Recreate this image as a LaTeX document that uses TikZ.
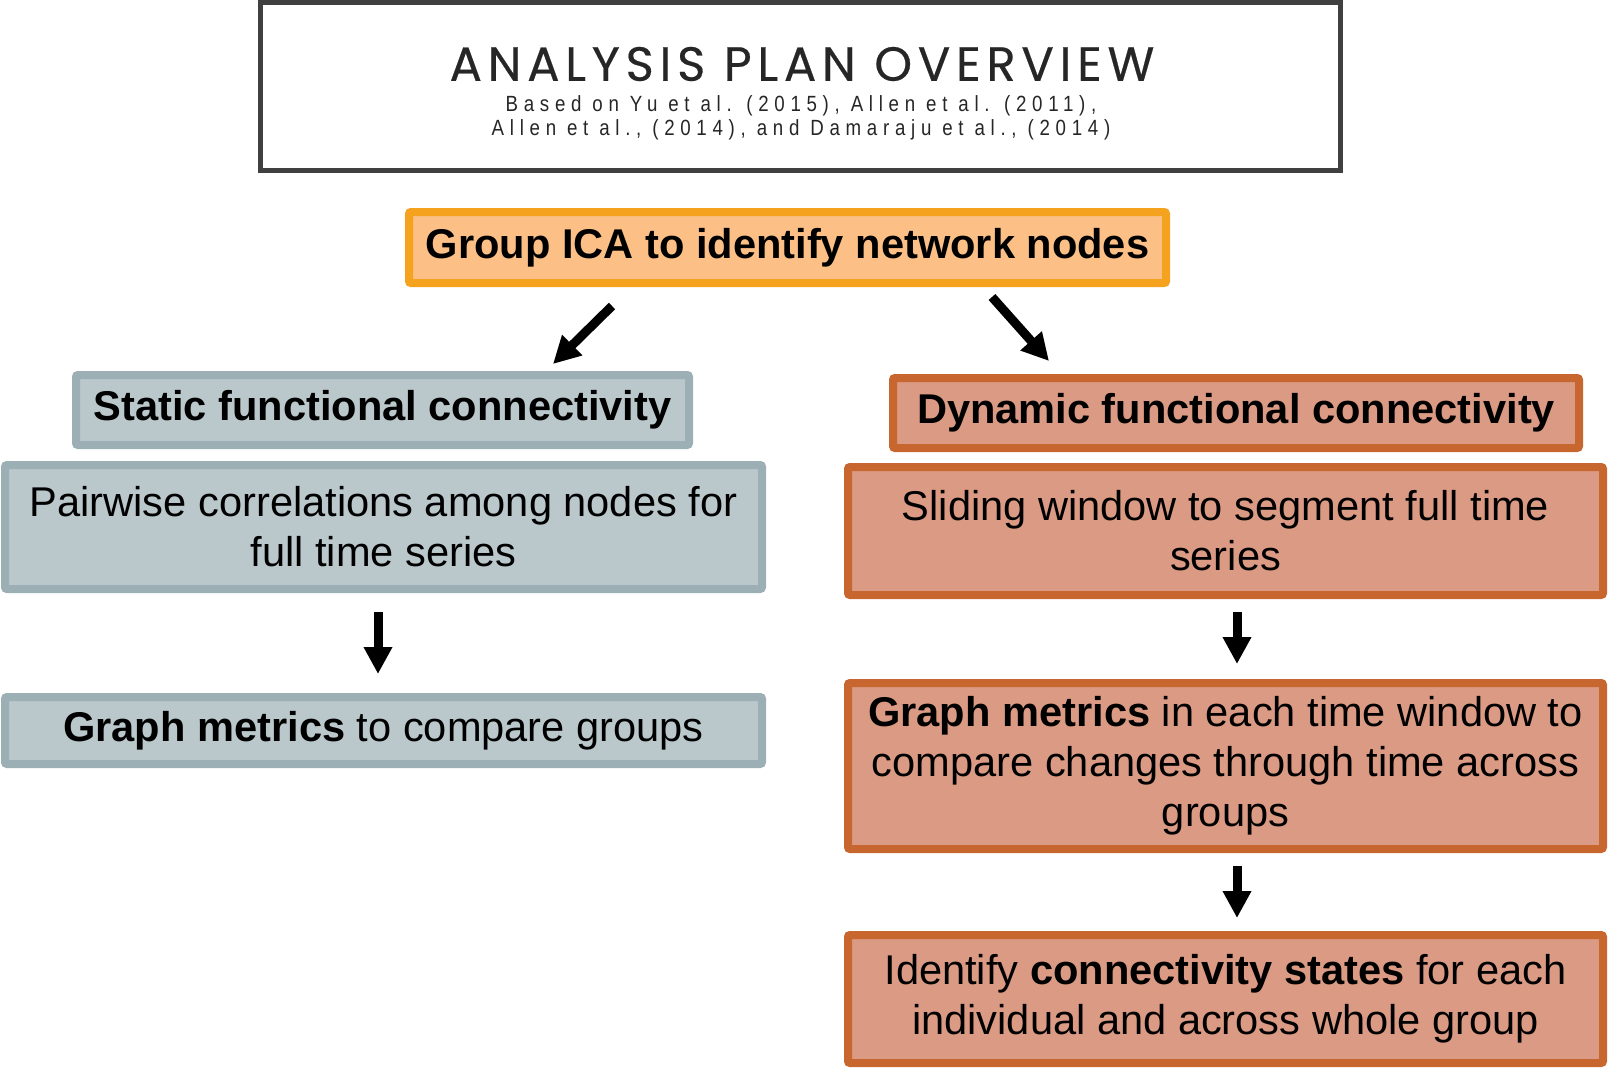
\documentclass[tikz,border=0pt]{standalone}
\usepackage{fontspec}
\setmainfont{Liberation Sans}
\newfontfamily\titlefont[LetterSpace=12,FakeBold=0.4]{Poppins}
\newfontfamily\subfont[LetterSpace=26,FakeStretch=0.85]{Liberation Sans}
\usepackage{tikz}
\usetikzlibrary{positioning, shapes, arrows.meta}

\definecolor{titleline}{HTML}{404040}
\definecolor{icaline}{HTML}{F5A21E}
\definecolor{icafill}{HTML}{FCC087}
\definecolor{statline}{HTML}{9BAFB5}
\definecolor{statfill}{HTML}{BAC8CC}
\definecolor{dynline}{HTML}{C86630}
\definecolor{dynfill}{HTML}{DB9A84}

\tikzset{
  box/.style={draw, line width=8pt, rounded corners=2pt, align=center,
    inner sep=0pt, font=\fontsize{41.6}{50}\selectfont},
  icabox/.style={box, draw=icaline, fill=icafill},
  statbox/.style={box, draw=statline, fill=statfill},
  dynbox/.style={box, draw=dynline, fill=dynfill},
  bigarrow/.style={line width=9pt, -{Triangle[width=27pt,length=27pt]}},
}

\begin{document}
\begin{tikzpicture}[x=1pt, y=-1pt]
  \useasboundingbox (0,0) rectangle (1620,1070);

  % heading
  \node [draw=titleline, line width=5pt, minimum width=1080pt, minimum height=168pt] (titlebox) at (800.5,86.5) {};
  \node [font=\titlefont\fontsize{48}{50}\selectfont, text=black!85, inner sep=0pt] (titletext) at (802,64) {ANALYSIS PLAN OVERVIEW};
  \node [font=\subfont\fontsize{22}{23.5}\selectfont, align=center, text=black!85, inner sep=0pt] (titlesub) at (801,118)
    {Based on Yu et al. (2015), Allen et al. (2011),\\ Allen et al., (2014), and Damaraju et al., (2014)};

  % top step
  \node [icabox, minimum width=757pt, minimum height=71pt] (ica) at (787.5,247.5) {\textbf{Group ICA to identify network nodes}};

  % static branch
  \node [statbox, minimum width=613pt, minimum height=70pt] (static) at (382.5,410) {\textbf{Static functional connectivity}};
  \node [statbox, minimum width=757pt, minimum height=124pt] (pair) at (383.5,527) {Pairwise correlations among nodes for\\ full time series};
  \node [statbox, minimum width=757pt, minimum height=67pt] (gml) at (383.5,730.5) {\textbf{Graph metrics} to compare groups};

  % dynamic branch
  \node [dynbox, minimum width=686pt, minimum height=70pt] (dyn) at (1236,413) {\textbf{Dynamic functional connectivity}};
  \node [dynbox, minimum width=755pt, minimum height=128pt] (slide) at (1225.5,531) {Sliding window to segment full time\\ series};
  \node [dynbox, minimum width=755pt, minimum height=166pt] (gmr) at (1225.5,766) {\textbf{Graph metrics} in each time window to\\ compare changes through time across\\ groups};
  \node [dynbox, minimum width=755pt, minimum height=128pt] (ident) at (1225.5,999) {Identify \textbf{connectivity states} for each\\ individual and across whole group};

  % arrows
  \draw [bigarrow] ([xshift=-175.5pt, yshift=-19pt]ica.south) -- ([xshift=170.5pt, yshift=7pt]static.north);
  \draw [bigarrow] ([xshift=204.5pt, yshift=-10pt]ica.south) -- ([xshift=-187pt, yshift=13pt]dyn.north);
  \draw [bigarrow] ([xshift=-5.5pt, yshift=-19pt]pair.south) -- ([xshift=-5.5pt, yshift=19pt]gml.north);
  \draw [bigarrow] ([xshift=11.5pt, yshift=-13pt]slide.south) -- ([xshift=11.5pt, yshift=15pt]gmr.north);
  \draw [bigarrow] ([xshift=11.5pt, yshift=-13pt]gmr.south) -- ([xshift=11.5pt, yshift=13pt]ident.north);
\end{tikzpicture}
\end{document}
